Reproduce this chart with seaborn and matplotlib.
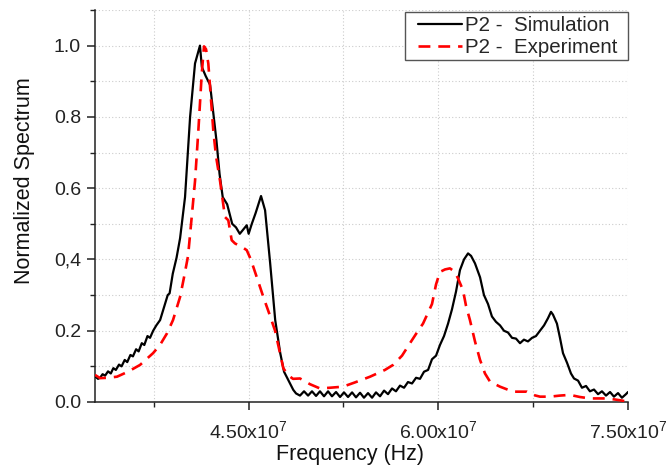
import matplotlib
matplotlib.use("Agg")
import matplotlib.pyplot as plt
import matplotlib.ticker as mticker
from matplotlib.patches import Rectangle
import seaborn as sns
import pandas as pd

# ---- data (frequency in units of 1e7 Hz) ----
sim_f = [3.285, 3.309, 3.325, 3.345, 3.365, 3.388, 3.410, 3.430, 3.450, 3.475,
         3.495, 3.520, 3.540, 3.565, 3.585, 3.610, 3.630, 3.655, 3.675, 3.700,
         3.720, 3.745, 3.770, 3.800, 3.830, 3.860, 3.875, 3.900, 3.930, 3.958,
         3.997, 4.037, 4.076, 4.115, 4.130, 4.160, 4.195, 4.245, 4.270, 4.295,
         4.330, 4.370, 4.400, 4.430, 4.460, 4.485, 4.500, 4.525, 4.555, 4.598,
         4.630, 4.670, 4.710, 4.750, 4.780, 4.800, 4.830, 4.853, 4.875, 4.906,
         4.938, 4.970, 5.001, 5.033, 5.064, 5.096, 5.128, 5.159, 5.191, 5.223,
         5.254, 5.286, 5.318, 5.349, 5.381, 5.412, 5.444, 5.476, 5.507, 5.539,
         5.571, 5.602, 5.634, 5.665, 5.697, 5.729, 5.760, 5.792, 5.824, 5.855,
         5.887, 5.919, 5.950, 5.982, 6.013, 6.045, 6.077, 6.108, 6.140, 6.171,
         6.203, 6.235, 6.259, 6.290, 6.330, 6.361, 6.393, 6.424, 6.456, 6.488,
         6.519, 6.551, 6.583, 6.614, 6.646, 6.677, 6.709, 6.741, 6.772, 6.804,
         6.836, 6.867, 6.891, 6.907, 6.938, 6.962, 6.986, 7.018, 7.049, 7.073,
         7.105, 7.136, 7.168, 7.199, 7.231, 7.263, 7.294, 7.326, 7.358, 7.389,
         7.421, 7.452, 7.484, 7.500]
sim_v = [0.072, 0.065, 0.068, 0.078, 0.074, 0.086, 0.080, 0.095, 0.090, 0.105,
         0.100, 0.118, 0.112, 0.132, 0.128, 0.148, 0.142, 0.165, 0.160, 0.185,
         0.180, 0.200, 0.215, 0.230, 0.265, 0.300, 0.305, 0.360, 0.405, 0.460,
         0.575, 0.800, 0.950, 1.000, 0.940, 0.915, 0.890, 0.735, 0.640, 0.575,
         0.555, 0.500, 0.490, 0.472, 0.485, 0.496, 0.472, 0.500, 0.530, 0.578,
         0.538, 0.390, 0.230, 0.137, 0.085, 0.071, 0.050, 0.034, 0.024, 0.018,
         0.030, 0.018, 0.030, 0.017, 0.030, 0.016, 0.030, 0.016, 0.028, 0.014,
         0.027, 0.014, 0.027, 0.013, 0.026, 0.012, 0.025, 0.012, 0.027, 0.016,
         0.032, 0.022, 0.038, 0.030, 0.046, 0.040, 0.056, 0.052, 0.068, 0.065,
         0.085, 0.090, 0.120, 0.130, 0.160, 0.185, 0.220, 0.260, 0.310, 0.370,
         0.400, 0.417, 0.410, 0.389, 0.350, 0.300, 0.275, 0.240, 0.225, 0.215,
         0.200, 0.195, 0.180, 0.178, 0.165, 0.175, 0.170, 0.180, 0.185, 0.200,
         0.215, 0.235, 0.253, 0.245, 0.220, 0.180, 0.137, 0.110, 0.080, 0.066,
         0.060, 0.040, 0.045, 0.030, 0.035, 0.022, 0.030, 0.018, 0.028, 0.015,
         0.025, 0.012, 0.022, 0.028]

exp_f = [3.285, 3.325, 3.389, 3.459, 3.546, 3.641, 3.744, 3.799, 3.855, 3.902,
         3.958, 3.989, 4.021, 4.050, 4.076, 4.102, 4.129, 4.147, 4.163, 4.181,
         4.221, 4.242, 4.274, 4.313, 4.339, 4.366, 4.392, 4.419, 4.456, 4.485,
         4.511, 4.537, 4.574, 4.616, 4.661, 4.709, 4.740, 4.774, 4.812, 4.851,
         4.906, 4.985, 5.064, 5.143, 5.246, 5.341, 5.460, 5.578, 5.642, 5.713,
         5.776, 5.831, 5.879, 5.918, 5.950, 5.982, 6.013, 6.053, 6.092, 6.132,
         6.164, 6.195, 6.219, 6.250, 6.290, 6.330, 6.369, 6.409, 6.488, 6.590,
         6.701, 6.748, 6.804, 6.883, 6.962, 7.041, 7.120, 7.199, 7.278, 7.334,
         7.397, 7.452, 7.492]
exp_v = [0.076, 0.067, 0.068, 0.071, 0.085, 0.104, 0.137, 0.160, 0.193, 0.230,
         0.295, 0.350, 0.410, 0.520, 0.620, 0.760, 0.920, 0.998, 0.990, 0.950,
         0.760, 0.690, 0.620, 0.519, 0.510, 0.454, 0.445, 0.440, 0.433, 0.426,
         0.405, 0.379, 0.340, 0.295, 0.250, 0.200, 0.150, 0.095, 0.075, 0.065,
         0.066, 0.050, 0.038, 0.040, 0.043, 0.055, 0.071, 0.090, 0.104, 0.130,
         0.165, 0.195, 0.220, 0.250, 0.275, 0.330, 0.365, 0.372, 0.375, 0.365,
         0.340, 0.314, 0.270, 0.230, 0.170, 0.118, 0.080, 0.057, 0.043, 0.029,
         0.029, 0.020, 0.015, 0.015, 0.018, 0.020, 0.014, 0.010, 0.010, 0.010,
         0.007, 0.004, 0.001]

x_ticks = [4.5e7, 6.0e7, 7.5e7]
x_tick_labels = ["4.50x10$^\\mathregular{7}$", "6.00x10$^\\mathregular{7}$",
                 "7.50x10$^\\mathregular{7}$"]
y_ticks = [0.0, 0.2, 0.4, 0.6, 0.8, 1.0]
y_tick_labels = ["0.0", "0.2", "0,4", "0.6", "0.8", "1.0"]
series_names = ["P2 -  Simulation", "P2 -  Experiment"]

sim = pd.DataFrame({"f": [v * 1e7 for v in sim_f], "v": sim_v})
exp = pd.DataFrame({"f": [v * 1e7 for v in exp_f], "v": exp_v})

sns.set_style("ticks")
plt.rcParams["font.family"] = ["Liberation Sans", "DejaVu Sans"]
plt.rcParams["mathtext.fontset"] = "custom"
plt.rcParams["mathtext.rm"] = "Liberation Sans"

fig = plt.figure(figsize=(6.66, 4.68), dpi=100)
ax = fig.add_axes([95 / 666, 1 - 402 / 468, 533 / 666, 392 / 468])

sns.lineplot(data=sim, x="f", y="v", ax=ax, color="black", linewidth=1.6,
             estimator=None, sort=False, label=series_names[0], zorder=3)
sns.lineplot(data=exp, x="f", y="v", ax=ax, color="#ff0000", linewidth=1.9,
             estimator=None, sort=False, label=series_names[1],
             linestyle=(0, (4.5, 3.0)), zorder=4)

ax.set_xlim(3.285e7, 7.5e7)
ax.set_ylim(0, 1.1)
ax.set_xticks(x_ticks)
ax.set_xticklabels(x_tick_labels)
ax.set_yticks(y_ticks)
ax.set_yticklabels(y_tick_labels)
ax.xaxis.set_minor_locator(mticker.MultipleLocator(0.75e7))
ax.yaxis.set_minor_locator(mticker.MultipleLocator(0.1))

ax.grid(True, which="both", linestyle=(0, (1, 2)), color="#cccccc", linewidth=0.8)
ax.set_axisbelow(True)

for s in ["top", "right"]:
    ax.spines[s].set_visible(False)
for s in ["left", "bottom"]:
    ax.spines[s].set_linewidth(1.1)
    ax.spines[s].set_color("#222222")

ax.tick_params(which="major", direction="out", length=6, width=1.1,
               labelsize=14, colors="#222222")
ax.tick_params(axis="x", which="major", pad=7)
ax.tick_params(axis="y", which="major", pad=4)
ax.tick_params(which="minor", direction="out", length=3.5, width=1.0,
               colors="#222222")

ax.set_xlabel("Frequency (Hz)", fontsize=15.5, color="#111111")
ax.set_ylabel("Normalized Spectrum", fontsize=15.5, color="#111111")
ax.xaxis.set_label_coords(0.478, -0.108)
ax.yaxis.set_label_coords(-0.113, 0.566)

# legend frame drawn as a box, legend entries on top of it
frame = Rectangle((0.5816, 0.872), 1.0 - 0.5816, 0.995 - 0.872,
                  transform=ax.transAxes, facecolor="white", edgecolor="#555555",
                  linewidth=1.0, zorder=4.5, clip_on=False)
ax.add_patch(frame)
leg = ax.legend(loc="upper left", bbox_to_anchor=(0.5985, 0.995), fontsize=14.8,
                frameon=False, handlelength=2.15, handletextpad=0.15,
                borderpad=0.2, labelspacing=0.15, borderaxespad=0.0)
leg.set_zorder(6)

fig.savefig("out.png", dpi=100)
